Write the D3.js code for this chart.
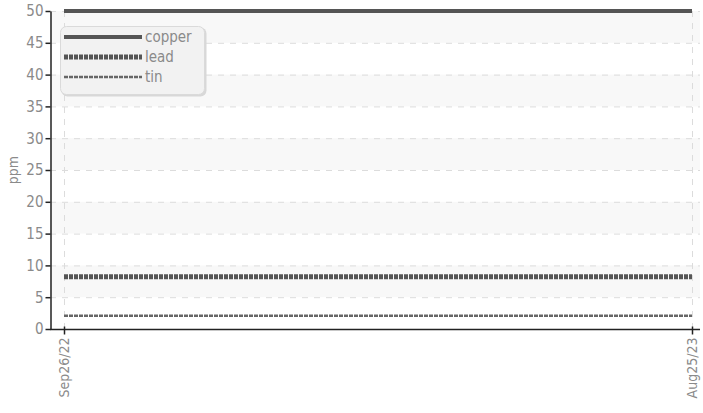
<!DOCTYPE html>
<html>
<head>
<meta charset="utf-8">
<script src="https://cdn.jsdelivr.net/npm/d3@7"></script>
<style>
  body { margin: 0; background: #fff; }
  text { font-family: "Liberation Sans Narrow", "DejaVu Sans Condensed", sans-serif; font-stretch: condensed; }
</style>
</head>
<body>
<div id="chart"></div>
<script>
const width = 703;
const height = 413;

const dates = ["2022-09-26", "2023-08-25"];
const tickLabels = ["Sep26/22", "Aug25/23"];
const seriesNames = ["copper", "lead", "tin"];
const copper = [50, 50];
const lead = [8.2, 8.2];
const tin = [2.1, 2.1];
const yTicks = [0, 5, 10, 15, 20, 25, 30, 35, 40, 45, 50];

const margin = { top: 11, right: 3, bottom: 84, left: 50 };

const parse = d3.timeParse("%Y-%m-%d");
const dateVals = dates.map(parse);

const svg = d3.select("#chart").append("svg")
  .attr("width", width)
  .attr("height", height);

const x = d3.scaleTime()
  .domain(d3.extent(dateVals))
  .range([64, 692]);

const y = d3.scaleLinear()
  .domain([0, 50])
  .range([329, 11]);

// alternating bands
const bands = yTicks.slice(0, -1).filter((d, i) => i % 2 === 1);
svg.selectAll(".band")
  .data(bands)
  .enter().append("rect")
  .attr("x", margin.left)
  .attr("width", 700 - margin.left)
  .attr("y", d => y(d + 5))
  .attr("height", d => y(d) - y(d + 5))
  .attr("fill", "#f8f8f8");

// horizontal grid
svg.selectAll(".hgrid")
  .data(yTicks.slice(1))
  .enter().append("line")
  .attr("x1", margin.left)
  .attr("x2", 700)
  .attr("y1", d => y(d) + 0.5)
  .attr("y2", d => y(d) + 0.5)
  .attr("stroke", "#dcdcdc")
  .attr("stroke-dasharray", "6,6");

// vertical grid
svg.selectAll(".vgrid")
  .data(dateVals)
  .enter().append("line")
  .attr("x1", d => Math.round(x(d)) + 0.5)
  .attr("x2", d => Math.round(x(d)) + 0.5)
  .attr("y1", y(50))
  .attr("y2", y(0))
  .attr("stroke", "#dcdcdc")
  .attr("stroke-dasharray", "6,6");

// y axis
const yAxis = svg.append("g")
  .attr("transform", `translate(${margin.left + 0.5},0)`)
  .call(d3.axisLeft(y).tickValues(yTicks).tickSize(5).tickSizeOuter(0));
yAxis.select(".domain").attr("stroke", "#222").attr("stroke-width", 1.5);
yAxis.selectAll(".tick line").attr("stroke", "#222").attr("stroke-width", 1.5);
yAxis.selectAll(".tick text")
  .attr("fill", "#8a8a8a")
  .attr("font-size", 15)
  .attr("x", -7);

// x axis
const xAxis = svg.append("g")
  .attr("transform", `translate(0,${y(0) + 0.5})`)
  .call(d3.axisBottom(x).tickValues(dateVals).tickSize(5).tickSizeOuter(0)
    .tickFormat((d, i) => tickLabels[i]));
xAxis.select(".domain")
  .attr("d", `M${margin.left},0H700`)
  .attr("stroke", "#222").attr("stroke-width", 1.5);
xAxis.selectAll(".tick line").attr("stroke", "#222").attr("stroke-width", 1.5).attr("y1", -3);
xAxis.selectAll(".tick text")
  .attr("fill", "#8a8a8a")
  .attr("font-size", 14)
  .attr("transform", "rotate(-90)")
  .attr("text-anchor", "end")
  .attr("dy", "0.35em")
  .attr("x", -8)
  .attr("y", 0);

svg.append("text")
  .attr("transform", "translate(18,170) rotate(-90)")
  .attr("text-anchor", "middle")
  .attr("fill", "#8a8a8a")
  .attr("font-size", 14)
  .text("ppm");

// series
const styles = {
  copper: { width: 4, dash: null, color: "#555" },
  lead: { width: 5, dash: "4,1", color: "#555" },
  tin: { width: 2.5, dash: "4,1", color: "#666" }
};
const seriesData = { copper: copper, lead: lead, tin: tin };

const line = d3.line()
  .x(d => x(d.date))
  .y(d => y(d.value));

seriesNames.forEach(name => {
  const pts = seriesData[name].map((v, i) => ({ date: dateVals[i], value: v }));
  svg.append("path")
    .datum(pts)
    .attr("d", line)
    .attr("fill", "none")
    .attr("stroke", styles[name].color)
    .attr("stroke-width", styles[name].width)
    .attr("stroke-dasharray", styles[name].dash);
});

// legend
const legend = svg.append("g").attr("transform", "translate(60,26)");
legend.append("rect")
  .attr("x", 1.5).attr("y", 1.5)
  .attr("width", 145).attr("height", 69)
  .attr("rx", 6)
  .attr("fill", "#d8d8d8");
legend.append("rect")
  .attr("x", 0.5).attr("y", 0.5)
  .attr("width", 144).attr("height", 68)
  .attr("rx", 6)
  .attr("fill", "#f2f2f2")
  .attr("stroke", "#dadada");

seriesNames.forEach((name, i) => {
  const ly = 11 + i * 20;
  legend.append("line")
    .attr("x1", 4).attr("x2", 82)
    .attr("y1", ly).attr("y2", ly)
    .attr("stroke", styles[name].color)
    .attr("stroke-width", styles[name].width)
    .attr("stroke-dasharray", styles[name].dash);
  legend.append("text")
    .attr("x", 85)
    .attr("y", ly)
    .attr("dy", "0.35em")
    .attr("fill", "#8a8a8a")
    .attr("font-size", 15)
    .text(name);
});
</script>
</body>
</html>
